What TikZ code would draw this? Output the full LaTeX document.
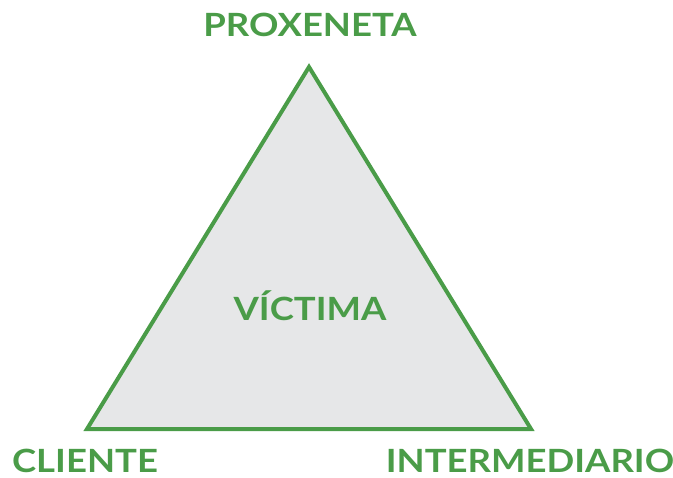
\documentclass[tikz,border=0pt]{standalone}
\usepackage{fontspec}
\setmainfont[FakeStretch=1.14]{Lato}
\usepackage{tikz}
\usetikzlibrary{positioning}
\definecolor{verde}{RGB}{74,156,72}
\definecolor{gris}{RGB}{230,231,232}

\begin{document}
\begin{tikzpicture}[x=0.5pt,y=-0.5pt]
    \tikzset{
      labelnode/.style={text=verde,inner sep=0pt,text depth=0pt,anchor=base,font=\fontsize{16}{18}\selectfont\bfseries},
      sideline/.style={draw=verde,line width=2pt,line join=miter,fill=gris}
    }
    \useasboundingbox (0,0) rectangle (673,477);
    \coordinate (top) at (309,67);
    \coordinate (left) at (87,429);
    \coordinate (right) at (531,429);

    \draw[sideline] (top) -- (left) -- (right) -- cycle;

    \node[labelnode] (proxeneta) at (310,36) {PROXENETA};
    \node[labelnode] (victima) at (310,320) {VÍCTIMA};
    \node[labelnode] (cliente) at (85,472) {CLIENTE};
    \node[labelnode] (intermediario) at (530,472) {INTERMEDIARIO};
  \end{tikzpicture}
\end{document}
